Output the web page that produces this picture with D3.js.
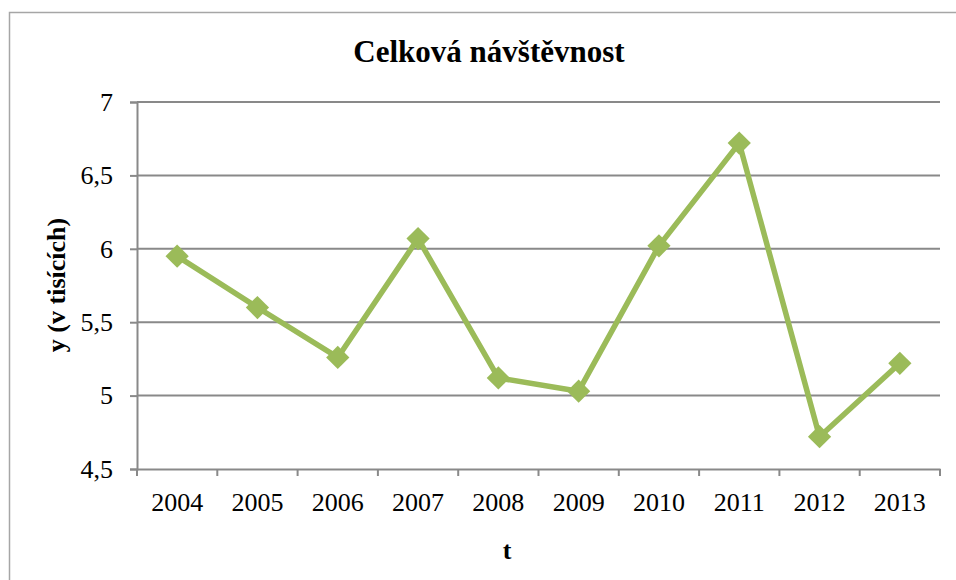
<!DOCTYPE html>
<html>
<head>
<meta charset="utf-8">
<script src="https://cdn.jsdelivr.net/npm/d3@7"></script>
<style>
  body { margin: 0; background: #fff; }
  svg { display: block; font-family: "Liberation Serif", "Times New Roman", serif; }
</style>
</head>
<body>
<div id="chart"></div>
<script>
const years = ['2004', '2005', '2006', '2007', '2008', '2009', '2010', '2011', '2012', '2013'];
const visits = [5.95, 5.60, 5.26, 6.07, 5.12, 5.03, 6.02, 6.72, 4.72, 5.22];
const yTicks = [4.5, 5, 5.5, 6, 6.5, 7];

const width = 956;
const height = 580;
const margin = { top: 102, right: 16, bottom: 111, left: 137 };

const svg = d3.select('#chart')
  .append('svg')
  .attr('width', width)
  .attr('height', height);

// rámeček grafu
svg.append('rect')
  .attr('x', 9.5)
  .attr('y', 12.5)
  .attr('width', 1000)
  .attr('height', 1000)
  .attr('fill', 'none')
  .attr('stroke', '#a6a6a6')
  .attr('stroke-width', 1.5);

const x = d3.scaleBand()
  .domain(years)
  .range([margin.left, width - margin.right])
  .padding(0);

const y = d3.scaleLinear()
  .domain([4.5, 7])
  .range([height - margin.bottom, margin.top]);

const fmt = d => String(d).replace('.', ',');
const gridColor = '#898989';

// mřížka
svg.append('g')
  .selectAll('line')
  .data(yTicks.filter(d => d > 4.5))
  .enter()
  .append('line')
  .attr('x1', margin.left)
  .attr('x2', width - margin.right)
  .attr('y1', d => y(d))
  .attr('y2', d => y(d))
  .attr('stroke', gridColor)
  .attr('stroke-width', 2);

// osa y
const yAxis = svg.append('g')
  .attr('transform', `translate(${margin.left},0)`)
  .call(d3.axisLeft(y).tickValues(yTicks).tickFormat(fmt).tickSize(7).tickPadding(17));
yAxis.select('.domain').attr('stroke', gridColor).attr('stroke-width', 2);
yAxis.selectAll('.tick line').attr('stroke', gridColor).attr('stroke-width', 2);
yAxis.selectAll('.tick text')
  .attr('font-family', '"Liberation Serif", serif')
  .attr('font-size', 26)
  .attr('fill', '#000');

// osa x
const xAxis = svg.append('g')
  .attr('transform', `translate(0,${height - margin.bottom})`)
  .call(d3.axisBottom(x).tickSize(0).tickPadding(24));
xAxis.select('.domain').attr('stroke', gridColor).attr('stroke-width', 2);
xAxis.selectAll('.tick text')
  .attr('font-family', '"Liberation Serif", serif')
  .attr('font-size', 26)
  .attr('fill', '#000');

// značky na hranicích kategorií
const bounds = years.map(d => x(d)).concat([x(years[years.length - 1]) + x.bandwidth()]);
xAxis.selectAll('.bound')
  .data(bounds)
  .enter()
  .append('line')
  .attr('class', 'bound')
  .attr('x1', d => d)
  .attr('x2', d => d)
  .attr('y1', 0)
  .attr('y2', 7)
  .attr('stroke', gridColor)
  .attr('stroke-width', 2);

const data = years.map((d, i) => ({ year: d, value: visits[i] }));
const cx = d => x(d.year) + x.bandwidth() / 2;

// čára
svg.append('path')
  .datum(data)
  .attr('fill', 'none')
  .attr('stroke', '#9bbb59')
  .attr('stroke-width', 5.5)
  .attr('stroke-linejoin', 'round')
  .attr('d', d3.line().x(cx).y(d => y(d.value)));

// kosočtverce
svg.append('g')
  .selectAll('path')
  .data(data)
  .enter()
  .append('path')
  .attr('d', d3.symbol(d3.symbolSquare, 270))
  .attr('transform', d => `translate(${cx(d)},${y(d.value)}) rotate(45)`)
  .attr('fill', '#9bbb59');

// titulek
svg.append('text')
  .attr('x', 489)
  .attr('y', 62)
  .attr('text-anchor', 'middle')
  .attr('font-size', 31)
  .attr('font-weight', 'bold')
  .text('Celková návštěvnost');

// popisky os
svg.append('text')
  .attr('transform', 'translate(65,285) rotate(-90)')
  .attr('text-anchor', 'middle')
  .attr('font-size', 26)
  .attr('font-weight', 'bold')
  .text('y (v tisících)');

svg.append('text')
  .attr('x', 507)
  .attr('y', 559)
  .attr('text-anchor', 'middle')
  .attr('font-size', 26)
  .attr('font-weight', 'bold')
  .text('t');
</script>
</body>
</html>
